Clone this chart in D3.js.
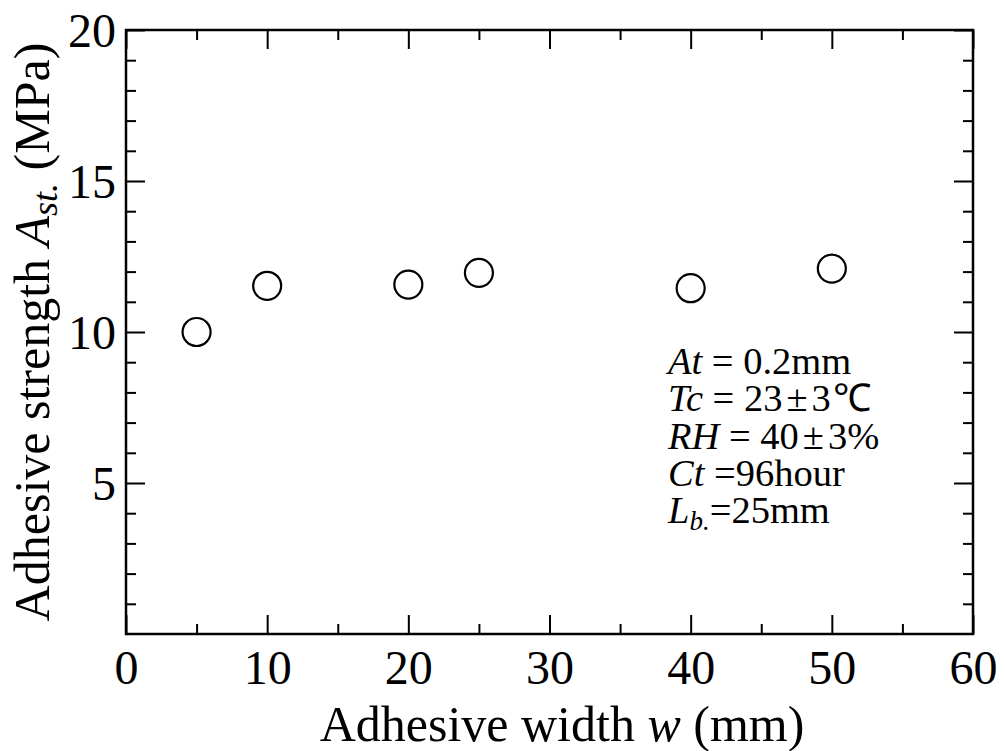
<!DOCTYPE html>
<html>
<head>
<meta charset="utf-8">
<script src="https://cdn.jsdelivr.net/npm/d3@7"></script>
<style>
  body { margin: 0; background: #fff; }
  text { font-family: "Liberation Serif", "Times New Roman", serif; fill: #000; }
</style>
</head>
<body>
<div class="canvas"></div>
<script>
// Data
const widths = [5, 10, 20, 25, 40, 50];
const strengths = [10.0, 11.53, 11.57, 11.96, 11.45, 12.1];
const xMajor = [0, 10, 20, 30, 40, 50, 60];
const yMajor = [5, 10, 15, 20];

const dims = { width: 1005, height: 751 };
const margin = { left: 126, top: 30, right: 32, bottom: 117 };
const w = dims.width - margin.left - margin.right;
const h = dims.height - margin.top - margin.bottom;

const svg = d3.select('.canvas')
    .append('svg')
    .attr('width', dims.width)
    .attr('height', dims.height);

const graph = svg.append('g')
    .attr('transform', `translate(${margin.left}, ${margin.top})`);

const x = d3.scaleLinear().domain([0, 60]).range([0, w]);
const y = d3.scaleLinear().domain([0, 20]).range([h, 0]);

const xMinor = d3.range(0, 61, 5).filter(v => v % 10 !== 0);
const yMinor = d3.range(0, 21, 1).filter(v => v % 5 !== 0);

// axis helper: all ticks point into the plot (negative tick size)
const drawAxis = (axisFn, scale, ticks, size, tr, labels) => {
    const g = graph.append('g')
        .attr('transform', tr)
        .call(axisFn(scale).tickValues(ticks).tickSize(-size).tickPadding(12)
            .tickFormat(labels ? d3.format('d') : ''));
    g.select('.domain').remove();
    g.selectAll('.tick line').attr('stroke', '#000').attr('stroke-width', 2);
    g.selectAll('text').style('font-size', '48px');
    return g;
};

const xl = drawAxis(d3.axisBottom, x, xMajor, 19, `translate(0, ${h})`, true);
drawAxis(d3.axisBottom, x, xMinor, 10, `translate(0, ${h})`, false);
drawAxis(d3.axisTop, x, xMajor, 19, 'translate(0, 0)', false);
drawAxis(d3.axisTop, x, xMinor, 10, 'translate(0, 0)', false);

const yl = drawAxis(d3.axisLeft, y, yMajor, 19, 'translate(0, 0)', true);
drawAxis(d3.axisLeft, y, yMinor, 10, 'translate(0, 0)', false);
drawAxis(d3.axisRight, y, yMajor, 19, `translate(${w}, 0)`, false);
drawAxis(d3.axisRight, y, yMinor, 10, `translate(${w}, 0)`, false);

xl.selectAll('.tick text').attr('dy', null).attr('y', 50);
yl.selectAll('.tick text').attr('x', -10).attr('dy', '0.34em');

// frame
graph.append('rect')
    .attr('width', w)
    .attr('height', h)
    .attr('fill', 'none')
    .attr('stroke', '#000')
    .attr('stroke-width', 2.5);

// points
graph.selectAll('circle')
    .data(widths.map((d, i) => ({ w: d, s: strengths[i] })))
    .enter()
    .append('circle')
        .attr('cx', d => x(d.w))
        .attr('cy', d => y(d.s))
        .attr('r', 14)
        .attr('fill', 'none')
        .attr('stroke', '#000')
        .attr('stroke-width', 2.2);

// axis titles
svg.append('text')
    .attr('x', 562)
    .attr('y', 741)
    .attr('text-anchor', 'middle')
    .style('font-size', '50px')
    .call(t => {
        t.append('tspan').text('Adhesive width ');
        t.append('tspan').style('font-style', 'italic').text('w');
        t.append('tspan').text(' (mm)');
    });

svg.append('text')
    .attr('transform', 'translate(49, 332) rotate(-90)')
    .attr('text-anchor', 'middle')
    .style('font-size', '50px')
    .call(t => {
        t.append('tspan').text('Adhesive strength ');
        t.append('tspan').style('font-style', 'italic').text('A');
        t.append('tspan').style('font-style', 'italic').style('font-size', '36px').attr('dy', 8).text('st.');
        t.append('tspan').attr('dy', -8).text(' (MPa)');
    });

// conditions note
const fs = '38.5px';
const step = 37.3;
const note = svg.append('g').attr('transform', 'translate(668, 374)');

const line = (i) => note.append('text').attr('y', i * step).style('font-size', fs);
const it = (t, s) => t.append('tspan').style('font-style', 'italic').text(s);
const rm = (t, s, dx) => t.append('tspan').attr('dx', dx || 0).text(s);

let t = line(0);
it(t, 'At'); rm(t, ' = 0.2mm');

t = line(1);
it(t, 'Tc'); rm(t, ' = 23'); rm(t, '\u00B1', 4); rm(t, '3', 4); rm(t, '\u2103', 2);

t = line(2);
it(t, 'RH'); rm(t, ' = 40'); rm(t, '\u00B1', 4); rm(t, '3%', 4);

t = line(3);
it(t, 'Ct'); rm(t, ' =96hour');

t = line(4);
it(t, 'L');
t.append('tspan').style('font-style', 'italic').style('font-size', '27px').attr('dy', 7).text('b.');
t.append('tspan').attr('dy', -7).text('=25mm');
</script>
</body>
</html>
